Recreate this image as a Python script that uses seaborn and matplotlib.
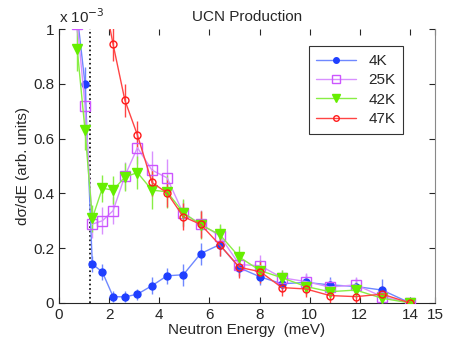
import numpy as np
import pandas as pd
import matplotlib
matplotlib.use("Agg")
import matplotlib.pyplot as plt
import seaborn as sns

# energies (meV)
energy = [0.73, 1.04, 1.33, 1.73, 2.16, 2.63, 3.13, 3.71, 4.31, 4.96, 5.65, 6.41,
          7.2, 8.03, 8.89, 9.85, 10.8, 11.84, 12.89, 14.0]

# cross sections (x 1e-3)
k4 = [1.05, 0.80, 0.142, 0.113, 0.023, 0.022, 0.032, 0.063, 0.099, 0.103, 0.18, 0.213,
      0.128, 0.095, 0.07, 0.075, 0.066, 0.06, 0.047, 0.0]
k25 = [1.02, 0.72, 0.288, 0.30, 0.337, 0.464, 0.567, 0.485, 0.457, 0.327, 0.289, 0.245,
       0.14, 0.136, 0.092, 0.078, 0.058, 0.066, 0.023, 0.0]
k42 = [0.926, 0.63, 0.309, 0.419, 0.412, 0.46, 0.476, 0.412, 0.406, 0.33, 0.285, 0.25,
       0.167, 0.118, 0.092, 0.06, 0.041, 0.047, 0.017, 0.0]
k47 = [None, None, None, 1.15, 0.944, 0.74, 0.613, 0.44, 0.402, 0.315, 0.287, 0.212,
       0.13, 0.114, 0.056, 0.051, 0.027, 0.023, 0.032, 0.0]

# error bars
e4 = [0.06, 0.06, 0.03, 0.03, 0.02, 0.02, 0.02, 0.03, 0.03, 0.04, 0.04, 0.04,
      0.03, 0.03, 0.03, 0.03, 0.03, 0.03, 0.04, 0.01]
e25 = [0.08, 0.07, 0.05, 0.05, 0.05, 0.05, 0.06, 0.07, 0.07, 0.05, 0.05, 0.04,
       0.04, 0.04, 0.03, 0.03, 0.03, 0.03, 0.03, 0.01]
e42 = [0.08, 0.07, 0.05, 0.05, 0.05, 0.05, 0.06, 0.07, 0.06, 0.05, 0.05, 0.04,
       0.04, 0.04, 0.03, 0.03, 0.03, 0.03, 0.03, 0.01]
e47 = [0.08, 0.08, 0.08, 0.08, 0.06, 0.06, 0.05, 0.05, 0.05, 0.05, 0.05, 0.04,
       0.04, 0.04, 0.03, 0.03, 0.03, 0.03, 0.03, 0.01]

labels = ["4K", "25K", "42K", "47K"]
series = [k4, k25, k42, k47]
errs = [e4, e25, e42, e47]

rows = []
for lab, vals, er in zip(labels, series, errs):
    for x, y, e in zip(energy, vals, er):
        if y is not None:
            rows.append({"E": x, "val": y, "err": e, "T": lab})
df = pd.DataFrame(rows)

sns.set_style("ticks")
plt.rcParams["font.family"] = ["Liberation Sans", "DejaVu Sans"]

fig = plt.figure(figsize=(4.57, 3.47), dpi=100)
ax = fig.add_axes([0.129, 0.127, 0.823, 0.789])

colors = {"4K": "#1f3fff", "25K": "#cc55ff", "42K": "#66ee00", "47K": "#ff1a1a"}
linecol = {"4K": "#6f88ff", "25K": "#d890ff", "42K": "#88ee44", "47K": "#ff4444"}
markers = {"4K": "o", "25K": "s", "42K": "v", "47K": "o"}
facecol = {"4K": "#1f3fff", "25K": "none", "42K": "#66ee00", "47K": "none"}
msize = {"4K": 5, "25K": 6.5, "42K": 6.5, "47K": 5}

ax.axvline(1.23, color="black", linestyle=":", linewidth=1.2, zorder=1)

for lab in labels:
    d = df[df["T"] == lab]
    ax.errorbar(d["E"], d["val"], yerr=d["err"], fmt="none",
                ecolor=linecol[lab], elinewidth=1, capsize=0, zorder=2)
    sns.lineplot(data=d, x="E", y="val", ax=ax, color=linecol[lab], linewidth=1,
                 marker=markers[lab], markersize=msize[lab],
                 markerfacecolor=facecol[lab], markeredgecolor=colors[lab],
                 markeredgewidth=1, label=lab, zorder=3, sort=False)

ax.set_xlim(0, 15)
ax.set_ylim(0, 1)
ax.set_xticks([0, 2, 4, 6, 8, 10, 12, 14, 15])
ax.set_yticks([0, 0.2, 0.4, 0.6, 0.8, 1])
ax.set_yticklabels(["0", "0.2", "0.4", "0.6", "0.8", "1"])
ax.tick_params(direction="in", top=True, right=True, labelsize=11, length=4)
ax.spines["right"].set_color("#888888")
ax.spines["top"].set_visible(False)
ax.set_title("UCN Production", fontsize=11)
ax.set_xlabel("Neutron Energy  (meV)", fontsize=11, labelpad=1)
ax.set_ylabel("dσ/dE (arb. units)", fontsize=11, labelpad=2)
ax.text(0.0, 1.012, r"x 10$^{-3}$", transform=ax.transAxes, fontsize=11,
        ha="left", va="bottom")

leg = ax.legend(loc="upper right", bbox_to_anchor=(0.935, 0.965), fontsize=11,
                frameon=True, fancybox=False, edgecolor="black",
                handlelength=2.6, borderpad=0.5, labelspacing=0.35, markerscale=0.8)
leg.get_frame().set_linewidth(0.8)

fig.savefig("out.png", dpi=100)
